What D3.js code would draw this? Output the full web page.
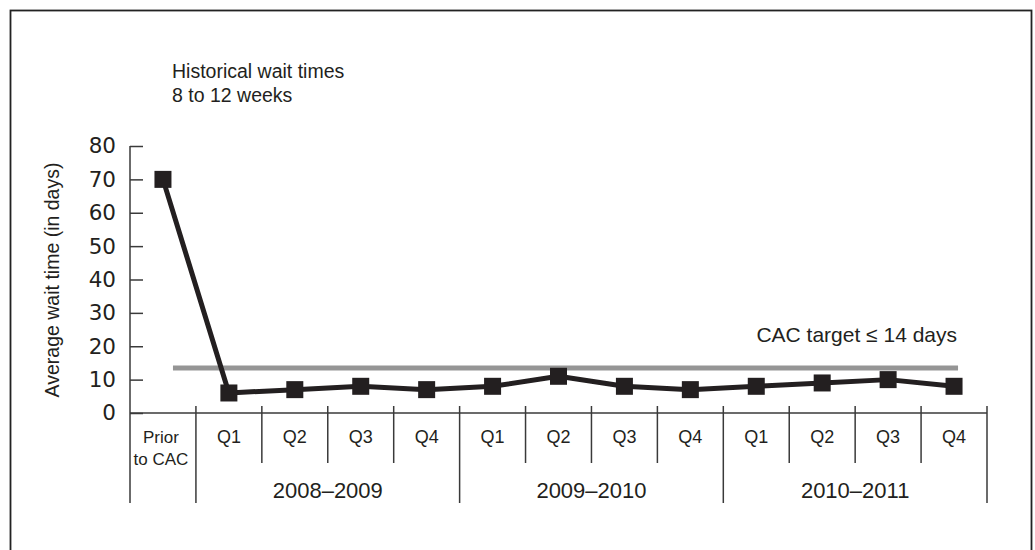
<!DOCTYPE html>
<html>
<head>
<meta charset="utf-8">
<script src="https://cdn.jsdelivr.net/npm/d3@7"></script>
<style>
  html, body { margin: 0; padding: 0; background: #fff; }
  svg { display: block; }
  text { font-family: "Liberation Sans", Arial, sans-serif; fill: #231f20; }
</style>
</head>
<body>
<svg id="chart" width="1035" height="550"></svg>
<script>
// ---- data ----
const categories = ["Prior to CAC", "Q1", "Q2", "Q3", "Q4", "Q1", "Q2", "Q3", "Q4", "Q1", "Q2", "Q3", "Q4"];
const waitDays   = [70, 6, 7, 8, 7, 8, 11, 8, 7, 8, 9, 10, 8];
const yearGroups = ["2008–2009", "2009–2010", "2010–2011"];
const yearSpan   = [[1, 4], [5, 8], [9, 12]];
const yTicks     = [0, 10, 20, 30, 40, 50, 60, 70, 80];
const targetValue = 13.5;
const targetLabel = "CAC target ≤ 14 days";
const noteLines  = ["Historical wait times", "8 to 12 weeks"];
const yTitle     = "Average wait time (in days)";

// ---- layout ----
const svg = d3.select("#chart");
const x0 = 130, x1 = 987, yTop = 146, yBase = 413;
const keys = categories.map((c, i) => i);
const x = d3.scaleBand().domain(keys).range([x0, x1]).padding(0);
const y = d3.scaleLinear().domain([0, 80]).range([yBase, yTop]);
const ink = "#231f20", axisCol = "#3a3a3a";

// outer frame (bottom edge falls outside the picture)
svg.append("rect").attr("x", 10.5).attr("y", 10.5).attr("width", 1021).attr("height", 600)
  .attr("fill", "none").attr("stroke", "#222").attr("stroke-width", 1.8);

// y axis
const yAxis = d3.axisLeft(y).tickValues(yTicks).tickSize(-13).tickPadding(14);
const gy = svg.append("g").attr("transform", `translate(${x0},0)`).call(yAxis);
gy.select(".domain").remove();
gy.selectAll(".tick line").attr("stroke", axisCol).attr("stroke-width", 1.5);
gy.selectAll(".tick text").attr("font-size", 21.5).attr("font-family", "DejaVu Sans, Arial, sans-serif")
  .style("font-family", "DejaVu Sans, Arial, sans-serif").attr("fill", ink);
svg.append("line").attr("x1", x0).attr("x2", x0).attr("y1", yTop).attr("y2", 503)
  .attr("stroke", axisCol).attr("stroke-width", 1.5);

// x axis baseline
svg.append("line").attr("x1", x0).attr("x2", x1).attr("y1", yBase).attr("y2", yBase)
  .attr("stroke", axisCol).attr("stroke-width", 1.5);

// category boundaries
keys.forEach(i => {
  if (i === 0) return;
  const bx = x(i);
  const isYear = yearSpan.some(s => s[0] === i);
  svg.append("line").attr("x1", bx).attr("x2", bx).attr("y1", 406).attr("y2", isYear || i === 1 ? 503 : 463)
    .attr("stroke", axisCol).attr("stroke-width", 1.5);
});
svg.append("line").attr("x1", x1).attr("x2", x1).attr("y1", 406).attr("y2", 503)
  .attr("stroke", axisCol).attr("stroke-width", 1.5);

// category labels
keys.forEach(i => {
  const cx = x(i) + x.bandwidth() / 2;
  if (i === 0) {
    const parts = ["Prior", "to CAC"];
    parts.forEach((p, j) => {
      svg.append("text").attr("x", cx - 2).attr("y", 443 + j * 22).attr("text-anchor", "middle")
        .attr("font-size", 17).text(p);
    });
  } else {
    svg.append("text").attr("x", cx).attr("y", 443).attr("text-anchor", "middle")
      .attr("font-size", 18).text(categories[i]);
  }
});

// year labels
yearGroups.forEach((g, k) => {
  const a = x(yearSpan[k][0]), b = x(yearSpan[k][1]) + x.bandwidth();
  svg.append("text").attr("x", (a + b) / 2).attr("y", 498).attr("text-anchor", "middle")
    .attr("font-size", 22).text(g);
});

// y title
svg.append("text").attr("transform", `translate(59,280) rotate(-90)`).attr("text-anchor", "middle")
  .attr("font-size", 19.5).text(yTitle);

// target line
const tStart = x(0) + x.bandwidth() / 2 + 10;
const tEnd = x(keys.length - 1) + x.bandwidth() / 2 + 4;
svg.append("line").attr("x1", tStart).attr("x2", tEnd).attr("y1", y(targetValue)).attr("y2", y(targetValue))
  .attr("stroke", "#959595").attr("stroke-width", 5);
svg.append("text").attr("x", tEnd - 1).attr("y", 342).attr("text-anchor", "end")
  .attr("font-size", 21).text(targetLabel);

// series line
const line = d3.line().x((d, i) => x(i) + x.bandwidth() / 2).y(d => y(d));
svg.append("path").datum(waitDays).attr("d", line).attr("fill", "none")
  .attr("stroke", ink).attr("stroke-width", 5).attr("stroke-linejoin", "round");
const m = 17;
svg.selectAll("rect.pt").data(waitDays).enter().append("rect").attr("class", "pt")
  .attr("x", (d, i) => x(i) + x.bandwidth() / 2 - m / 2).attr("y", d => y(d) - m / 2)
  .attr("width", m).attr("height", m).attr("fill", ink);

// note
noteLines.forEach((t, j) => {
  svg.append("text").attr("x", 172).attr("y", 78 + j * 24).attr("font-size", 19.5).text(t);
});
</script>
</body>
</html>
